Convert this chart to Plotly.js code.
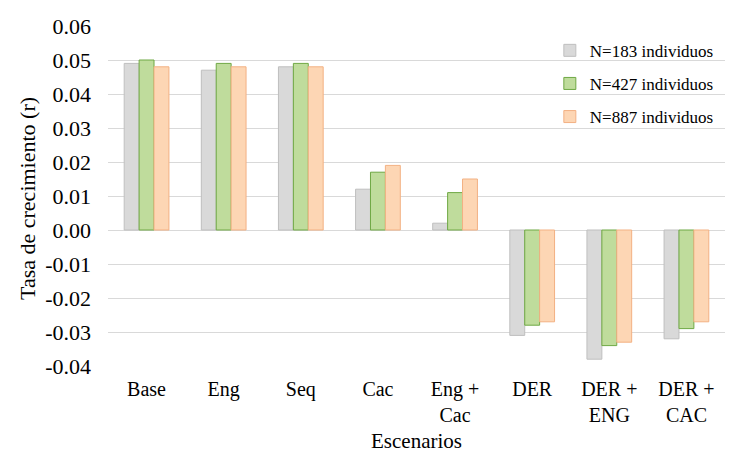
<!DOCTYPE html>
<html>
<head>
<meta charset="utf-8">
<script src="https://cdn.plot.ly/plotly-3.0.1.min.js"></script>
<style>
html,body{margin:0;padding:0;background:#fff;}
#chart{width:736px;height:458px;}
#chart svg text{font-family:'Liberation Serif' !important;}
</style>
</head>
<body>
<div id="chart"></div>
<script>
const categories = ["Base", "Eng", "Seq", "Cac", "Eng +<br>Cac", "DER", "DER +<br>ENG", "DER +<br>CAC"];
const seriesNames = ["N=183 individuos", "N=427 individuos", "N=887 individuos"];
const n183 = [0.049, 0.047, 0.048, 0.012, 0.002, -0.031, -0.038, -0.032];
const n427 = [0.050, 0.049, 0.049, 0.017, 0.011, -0.028, -0.034, -0.029];
const n887 = [0.048, 0.048, 0.048, 0.019, 0.015, -0.027, -0.033, -0.027];
const yTicks = [0.06, 0.05, 0.04, 0.03, 0.02, 0.01, 0.00, -0.01, -0.02, -0.03, -0.04];
const yTitle = "Tasa de crecimiento (r)";
const xTitle = "Escenarios";

const fills = ["#d9d9d9", "#bfdc9c", "#fdd6b4"];
const borders = ["#bfbfbf", "#6fa844", "#f3b183"];
const seriesVals = [n183, n427, n887];

const serifFont = "Liberation Serif";

const traces = seriesVals.map((vals, i) => ({
  type: "bar",
  x: categories,
  y: vals,
  name: seriesNames[i],
  legendgroup: "g" + i,
  marker: {color: fills[i], line: {color: borders[i], width: 1}},
  hoverinfo: "y"
}));

const layout = {
  width: 736, height: 458,
  margin: {l: 108, r: 11, t: 26, b: 92},
  paper_bgcolor: "#fff", plot_bgcolor: "#fff",
  font: {family: serifFont, size: 22, color: "#000"},
  barmode: "group",
  bargap: 0.42,
  bargroupgap: 0,
  showlegend: true,
  legend: {
    x: 0.99, y: 0.98, xanchor: "right", yanchor: "top",
    font: {family: serifFont, size: 17, color: "#000"},
    bgcolor: "rgba(0,0,0,0)",
    traceorder: "grouped",
    tracegroupgap: 8,
    itemwidth: 30
  },
  xaxis: {
    type: "category",
    showgrid: false, zeroline: false, showline: false,
    ticks: "", tickfont: {family: serifFont, size: 20, color: "#000"},
    ticklabelstandoff: 9,
    automargin: false
  },
  yaxis: {
    range: [-0.04, 0.06],
    tickvals: yTicks,
    ticktext: yTicks.map(v => v.toFixed(2)),
    showgrid: true, gridcolor: "#d9d9d9", gridwidth: 1,
    zeroline: true, zerolinecolor: "#d9d9d9", zerolinewidth: 1,
    showline: false, ticks: "",
    tickfont: {family: serifFont, size: 22, color: "#000"},
    ticklabelstandoff: 16,
    automargin: false
  },
  annotations: [
    {
      text: xTitle, xref: "paper", yref: "paper",
      x: 0.5, y: -0.222, xanchor: "center", yanchor: "middle",
      showarrow: false, font: {family: serifFont, size: 21, color: "#000"}
    },
    {
      text: yTitle, xref: "paper", yref: "paper", textangle: -90,
      x: (27 - 108) / 617, y: (366 - 199) / 340, xanchor: "center", yanchor: "middle",
      showarrow: false, font: {family: serifFont, size: 22, color: "#000"}
    }
  ]
};

Plotly.newPlot("chart", traces, layout, {displayModeBar: false});
</script>
</body>
</html>
